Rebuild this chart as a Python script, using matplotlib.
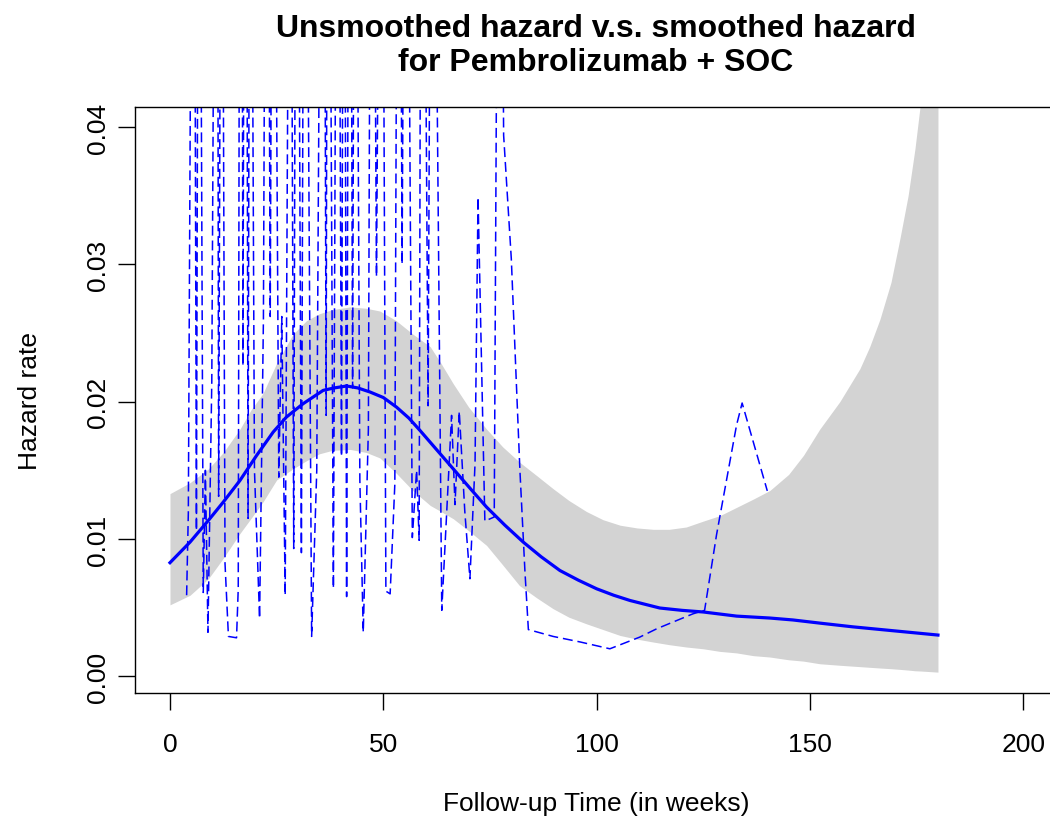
import matplotlib
matplotlib.use('Agg')
from matplotlib import pyplot as plt

# smoothed hazard (solid line)
smooth_t = [0, 4.7, 9, 12.5, 16.4, 20.3, 24.2, 27.3, 31.2, 35.9, 38.5, 41.4, 44, 46.9,
            50, 53.1, 56, 58.6, 62.5, 66.4, 70.3, 74.2, 78.5, 82.8, 87, 91.4, 95.7,
            100, 104, 107.8, 114.8, 120, 125, 132.8, 140.6, 146, 152.3, 160, 170, 180]
smooth_h = [0.00827, 0.00977, 0.01135, 0.01269, 0.01426, 0.01608, 0.01779, 0.01888,
            0.01985, 0.02082, 0.0210, 0.02114, 0.0210, 0.0207, 0.0203, 0.0196, 0.0188,
            0.0179, 0.0165, 0.0151, 0.0137, 0.01232, 0.0110, 0.00977, 0.0087, 0.0077,
            0.0070, 0.00637, 0.0059, 0.00552, 0.00497, 0.0048, 0.00468, 0.00438,
            0.00424, 0.0041, 0.00387, 0.0036, 0.0033, 0.0030]

# confidence band of the smoothed hazard
band_t = [0, 4.7, 9, 12.5, 16.4, 19, 21.8, 25, 28.8, 32, 35, 38, 42.2, 46, 49.2, 53,
          57, 61, 63.5, 66.4, 70, 74.2, 78, 81.9, 86, 89.8, 93.5, 97.6, 101.5, 105.5,
          109.5, 113.3, 117, 121, 125, 128.9, 132.8, 136.7, 140.6, 145, 148.5, 152.3,
          157, 161.7, 164, 166.4, 169, 171.1, 173, 174.6, 176, 178, 180]
band_hi = [0.0133, 0.0141, 0.0151, 0.0163, 0.0180, 0.0194, 0.0206, 0.0228, 0.0249,
           0.0259, 0.0264, 0.0267, 0.0269, 0.0268, 0.0266, 0.0259, 0.0249, 0.0240,
           0.0228, 0.0213, 0.0196, 0.0180, 0.0167, 0.0156, 0.0146, 0.01366, 0.0128,
           0.0120, 0.0114, 0.0110, 0.0108, 0.0107, 0.0107, 0.01087, 0.0113, 0.0117,
           0.0123, 0.0129, 0.01353, 0.0147, 0.0161, 0.0180, 0.0200, 0.0224, 0.0240,
           0.0260, 0.0287, 0.0319, 0.0350, 0.0384, 0.042, 0.047, 0.052]
band_lo = [0.0052, 0.0059, 0.0071, 0.0086, 0.0104, 0.0115, 0.0127, 0.0143, 0.0151,
           0.0157, 0.0162, 0.01645, 0.01652, 0.0163, 0.0159, 0.0148, 0.0135, 0.01244,
           0.0120, 0.01147, 0.0106, 0.00953, 0.0081, 0.00661, 0.0057, 0.00492,
           0.0043, 0.00382, 0.0034, 0.00297, 0.0027, 0.00249, 0.0023, 0.00213,
           0.0020, 0.00181, 0.0017, 0.0015, 0.0014, 0.0012, 0.0011, 0.00091, 0.0008,
           0.0007, 0.00065, 0.0006, 0.00055, 0.0005, 0.00045, 0.0004, 0.00038,
           0.00034, 0.0003]

# unsmoothed hazard (dashed line), many values run far above the plot
raw_t = [3.9, 4.3, 5.5, 6.2, 6.8, 7.8, 8.3, 8.9, 9.8, 11.0, 11.4, 12.1, 12.9, 13.7,
         15.6, 16.0, 16.6, 17.1, 17.7, 18.3, 18.8, 19.8, 21.0, 21.9, 22.7, 23.5,
         24.2, 25.5, 26.2, 27.0, 28.2, 29.0, 29.7, 30.8, 31.6, 33.2, 34.4, 35.9,
         36.6, 37.0, 38.3, 39.3, 40.2, 40.8, 41.4, 42.1, 42.8, 43.4, 44.5, 45.3,
         46.5, 47.3, 48.4, 49.6, 50.6, 51.6, 52.7, 53.6, 54.4, 55.3, 56.8, 57.8,
         58.4, 59.0, 60.5, 61.4, 63.7, 66.0, 66.8, 67.8, 69.1, 70.3, 71.5, 72.2,
         73.8, 76.0, 77.2, 78.2, 80.0, 82.0, 83.2, 84.0, 89.8, 96.1, 103.1, 110.1,
         114.1, 122.6, 125.3, 128.1, 132.8, 134.1, 140.0]
raw_h = [0.0059, 0.0119, 0.090, 0.0106, 0.085, 0.0061, 0.0150, 0.0032, 0.0215, 0.095,
         0.0131, 0.080, 0.0082, 0.0029, 0.0028, 0.0064, 0.110, 0.0226, 0.100, 0.0115,
         0.085, 0.0150, 0.0042, 0.0260, 0.090, 0.0262, 0.085, 0.0145, 0.0262, 0.0059,
         0.080, 0.0093, 0.090, 0.0090, 0.085, 0.0029, 0.0150, 0.095, 0.0190, 0.090,
         0.0064, 0.085, 0.0160, 0.080, 0.0058, 0.090, 0.0210, 0.085, 0.0143, 0.0032,
         0.0180, 0.090, 0.0291, 0.085, 0.0062, 0.0060, 0.0140, 0.090, 0.0300, 0.085,
         0.0101, 0.0150, 0.0099, 0.090, 0.0197, 0.085, 0.0048, 0.0190, 0.0125, 0.0193,
         0.0120, 0.0071, 0.0155, 0.0349, 0.0113, 0.0116, 0.085, 0.0394, 0.0304,
         0.0151, 0.0076, 0.0034, 0.0029, 0.0025, 0.0020, 0.00285, 0.00346, 0.00455,
         0.0048, 0.0103, 0.0183, 0.0199, 0.0135]

x_ticks = [0, 50, 100, 150, 200]
y_ticks = [0.00, 0.01, 0.02, 0.03, 0.04]
y_labels = ['0.00', '0.01', '0.02', '0.03', '0.04']

plt.rcParams['font.family'] = ['Liberation Sans', 'DejaVu Sans']

fig = plt.figure(figsize=(10.5, 8.28), dpi=100)
# plot box runs a little past the right edge of the picture
ax = fig.add_axes([135 / 1050, 134 / 828, 922 / 1050, 586 / 828])

ax.fill_between(band_t, band_lo, band_hi, color='#d3d3d3', lw=0, zorder=1)
ax.plot(raw_t, raw_h, color='blue', lw=1.1, dashes=(6.5, 3.2), zorder=2)
ax.plot(smooth_t, smooth_h, color='blue', lw=2.3, zorder=3)

ax.set_xlim(-8.2, 207.9)
ax.set_ylim(-0.00122, 0.04146)
ax.set_xticks(x_ticks)
ax.set_xticklabels([str(v) for v in x_ticks])
ax.set_yticks(y_ticks)
ax.set_yticklabels(y_labels, rotation=90, va='center')
ax.tick_params(axis='both', length=12, width=1, labelsize=19, colors='black')
ax.tick_params(axis='x', pad=16)
ax.tick_params(axis='y', pad=6)
for sp in ax.spines.values():
    sp.set_linewidth(1.0)

ax.set_xlabel('Follow-up Time (in weeks)', fontsize=19, va='center')
ax.xaxis.set_label_coords(0.5, (694 - 804) / 586)
ax.set_ylabel('Hazard rate', fontsize=19, va='center')
ax.yaxis.set_label_coords((30 - 135) / 922, 0.5)

fig.text(596 / 1050, 1 - 46 / 828, 'Unsmoothed hazard v.s. smoothed hazard\nfor Pembrolizumab + SOC',
         ha='center', va='center', fontsize=23, fontweight='bold', linespacing=1.15)

fig.savefig('out.png', dpi=100)
